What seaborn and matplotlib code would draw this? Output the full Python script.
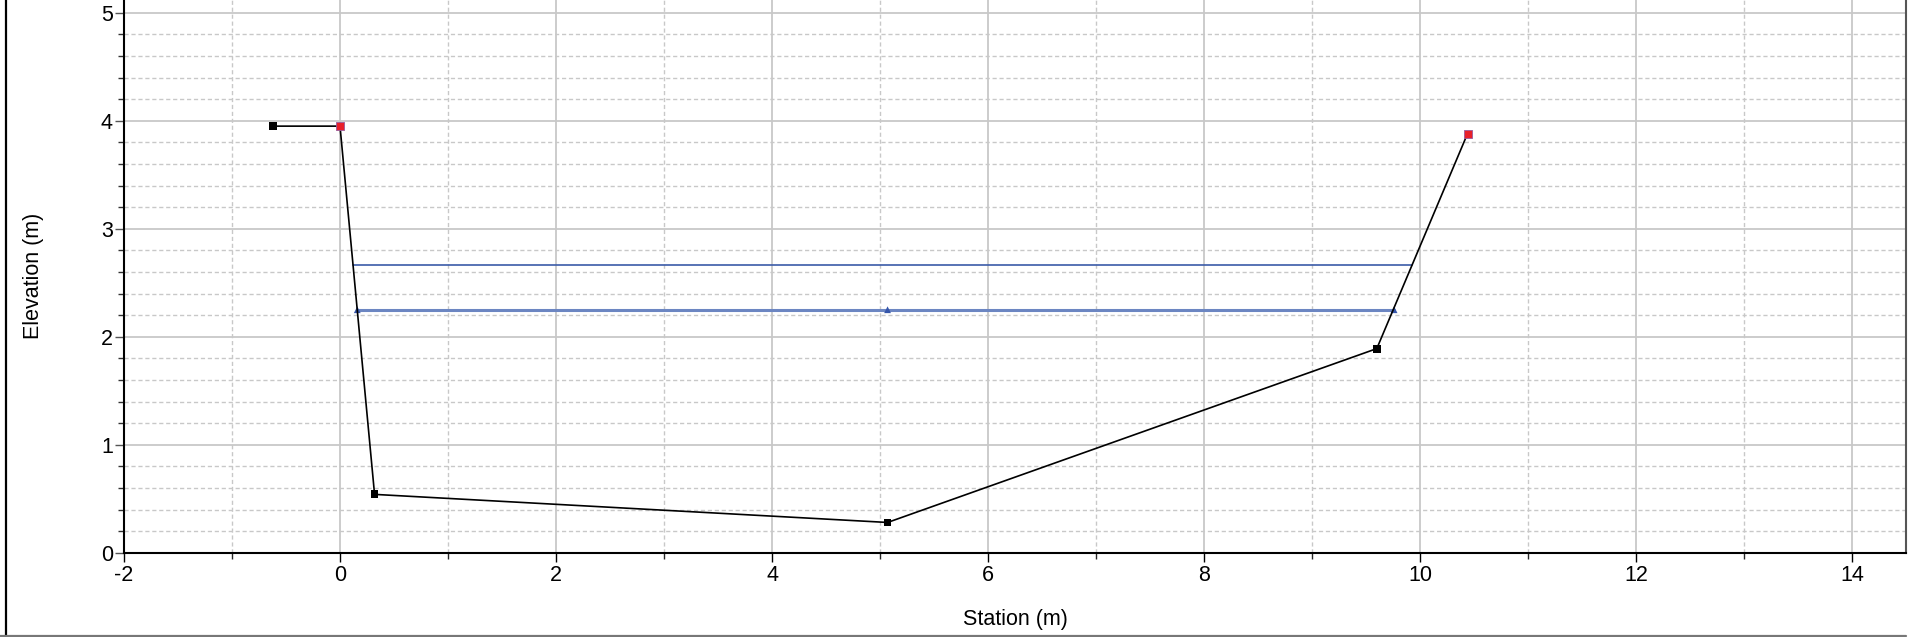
import matplotlib
matplotlib.use("Agg")
import matplotlib.pyplot as plt
import seaborn as sns
import pandas as pd
import numpy as np
from matplotlib.ticker import MultipleLocator
from matplotlib.lines import Line2D

# ---- data ----
ground_station = [-0.62, 0.0, 0.32, 5.07, 9.60, 10.44]
ground_elev = [3.95, 3.95, 0.54, 0.28, 1.89, 3.88]
bank_station = [0.0, 10.44]
bank_elev = [3.95, 3.88]
ws_station = [0.16, 5.07, 9.76]
ws_elev = [2.25, 2.25, 2.25]
eg_station = [0.12, 9.93]
eg_elev = [2.664, 2.664]
x_ticks = [-2, 0, 2, 4, 6, 8, 10, 12, 14]
y_ticks = [0, 1, 2, 3, 4, 5]

sns.set_theme(style="white")
plt.rcParams['font.family'] = ['Liberation Sans', 'DejaVu Sans']
plt.rcParams['axes.unicode_minus'] = False

W, H = 1910, 637
fig = plt.figure(figsize=(W / 100, H / 100), dpi=100)
left, right, bottom_px = 124, 1906, 552.7
ax = fig.add_axes([left / W, (H - bottom_px) / H, (right - left) / W, bottom_px / H])

ground = pd.DataFrame({"Station": ground_station, "Elevation": ground_elev})
ground_pts = ground[~ground["Station"].isin(bank_station)]
banks = pd.DataFrame({"Station": bank_station, "Elevation": bank_elev})
ws = pd.DataFrame({"Station": ws_station, "Elevation": ws_elev})
eg = pd.DataFrame({"Station": eg_station, "Elevation": eg_elev})

sns.lineplot(data=eg, x="Station", y="Elevation", ax=ax, color="#3b5ba8",
             linewidth=1.2, sort=False, zorder=3)
sns.lineplot(data=ws, x="Station", y="Elevation", ax=ax, color="#6c86c2",
             linewidth=2.2, sort=False, zorder=3)
sns.scatterplot(data=ws, x="Station", y="Elevation", ax=ax, marker="^",
                color="#3656aa", s=24, edgecolor="none", zorder=4)
sns.lineplot(data=ground, x="Station", y="Elevation", ax=ax, color="black",
             linewidth=1.2, sort=False, zorder=5)
sns.scatterplot(data=ground_pts, x="Station", y="Elevation", ax=ax, marker="s",
                color="black", s=32, edgecolor="none", zorder=6)
sns.scatterplot(data=banks, x="Station", y="Elevation", ax=ax, marker="s",
                color="#e8202a", s=36, edgecolor="#9a5a9a", linewidth=0.6, zorder=6)

ax.set_xlim(-2, 14.5)
ax.set_ylim(0, 5.118)
ax.set_xticks(x_ticks)
ax.set_yticks(y_ticks)
ax.xaxis.set_minor_locator(MultipleLocator(1))
ax.yaxis.set_minor_locator(MultipleLocator(0.2))

ax.grid(which="major", color="#c8c8c8", linestyle="-", linewidth=1.3)
ax.grid(which="minor", color="#c8c8c8", linestyle=(0, (3, 2)), linewidth=1.0)
ax.set_axisbelow(True)

FS = 15.5
ax.tick_params(axis="both", which="major", direction="out", length=6.5, width=1,
               labelsize=FS, colors="black", bottom=True, left=True)
ax.tick_params(axis="both", which="minor", direction="out", length=4, width=1,
               bottom=True, left=True)
ax.tick_params(axis="x", which="major", pad=2.5)
ax.tick_params(axis="y", which="major", pad=1.5, color="#555555")
ax.tick_params(axis="y", which="minor", color="#333333")

for s in ["left", "bottom"]:
    ax.spines[s].set_color("black")
    ax.spines[s].set_linewidth(1.5)
ax.spines["right"].set_color("#555555")
ax.spines["right"].set_linewidth(1.5)
ax.spines["top"].set_visible(False)

ax.set_xlabel("Station (m)", fontsize=FS, color="black")
ax.set_ylabel("Elevation (m)", fontsize=FS, color="black")
ax.xaxis.set_label_coords(0.5, (bottom_px - 619) / bottom_px, transform=ax.transAxes)
ax.yaxis.set_label_coords((33 - left) / (right - left), 0.5, transform=ax.transAxes)
ax.xaxis.label.set_va("center")
ax.yaxis.label.set_va("center")

# outer frame
fig.add_artist(Line2D([5.5 / W, 5.5 / W], [0, 1], transform=fig.transFigure,
                      color="black", linewidth=1.6))
fig.add_artist(Line2D([0, 1906 / W], [1.2 / H, 1.2 / H], transform=fig.transFigure,
                      color="#777777", linewidth=1.6))

fig.savefig("out.png", dpi=100)
